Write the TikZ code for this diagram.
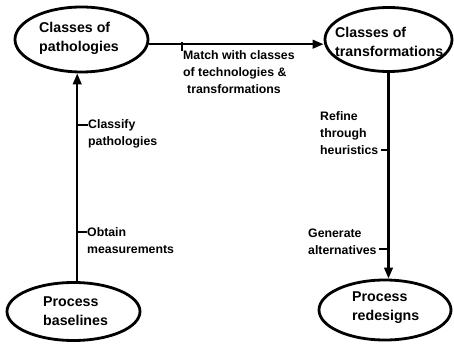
\documentclass[tikz,border=0pt]{standalone}
\usepackage{fontspec}
\setmainfont{Liberation Sans}
\usetikzlibrary{shapes.geometric,arrows.meta}
\begin{document}
\begin{tikzpicture}[x=1pt,y=-1pt,
  oval/.style={draw,ellipse,line width=2.8pt,inner sep=0pt},
  ovaltext/.style={inner sep=0pt,anchor=west,align=left,font=\fontsize{14.2}{19}\selectfont\bfseries},
  lbl/.style={inner sep=0pt,align=left,font=\fontsize{12.3}{17}\selectfont\bfseries},
  conn/.style={line width=2.4pt,-{Triangle[length=11pt,width=8.5pt]}},
  tick/.style={line width=1.8pt}]
\useasboundingbox (0,0) rectangle (454,344);
% ellipses
\node[oval,minimum width=133pt,minimum height=65pt] (tl) at (81.5,39.5) {};
\node[oval,minimum width=127pt,minimum height=64pt] (tr) at (388.5,39.5) {};
\node[oval,minimum width=133pt,minimum height=58pt] (bl) at (73.5,311.5) {};
\node[oval,minimum width=132pt,minimum height=60pt] (br) at (385,310) {};
% ellipse texts
\node[ovaltext] (tlt) at (39,38) {Classes of\\pathologies};
\node[ovaltext] (trt) at (335,41.5) {Classes of\\transformations};
\node[ovaltext] (blt) at (43,311) {Process\\baselines};
\node[ovaltext] (brt) at (352,307.5) {Process\\redesigns};
% connectors
\draw[conn] (bl.83) -- (bl.83 |- tl.south);
\draw[conn] (tl.-4) -- (tl.-4 -| tr.west);
\draw[conn] (tr.south) -- (tr.south |- br.north);
% labels
\node[lbl,anchor=west] (cls) at (88,134) {Classify\\pathologies};
\node[lbl,anchor=west] (obt) at (87,241) {Obtain\\measurements};
\node[lbl,anchor=west] (mat) at (183,72) {Match with classes\\of technologies \&\\\hspace*{4pt}transformations};
\node[lbl,anchor=west] (ref) at (320,133) {Refine\\through\\heuristics};
\node[lbl,anchor=west] (gen) at (308,241.5) {Generate\\alternatives};
% ticks
\coordinate (c1) at (77,125);
\coordinate (c2) at (77,232);
\coordinate (c3) at (182,42);
\coordinate (c4) at (182,51);
\coordinate (c5) at (388,150);
\coordinate (c6) at (388,249);
\draw[tick] (c1) -- (c1 -| cls.west);
\draw[tick] (c2) -- (c2 -| obt.west);
\draw[tick] (c3) -- (c4);
\draw[tick] (c5) -- ([xshift=2pt]c5 -| ref.east);
\draw[tick] (c6) -- ([xshift=2pt]c6 -| gen.east);
\end{tikzpicture}
\end{document}
